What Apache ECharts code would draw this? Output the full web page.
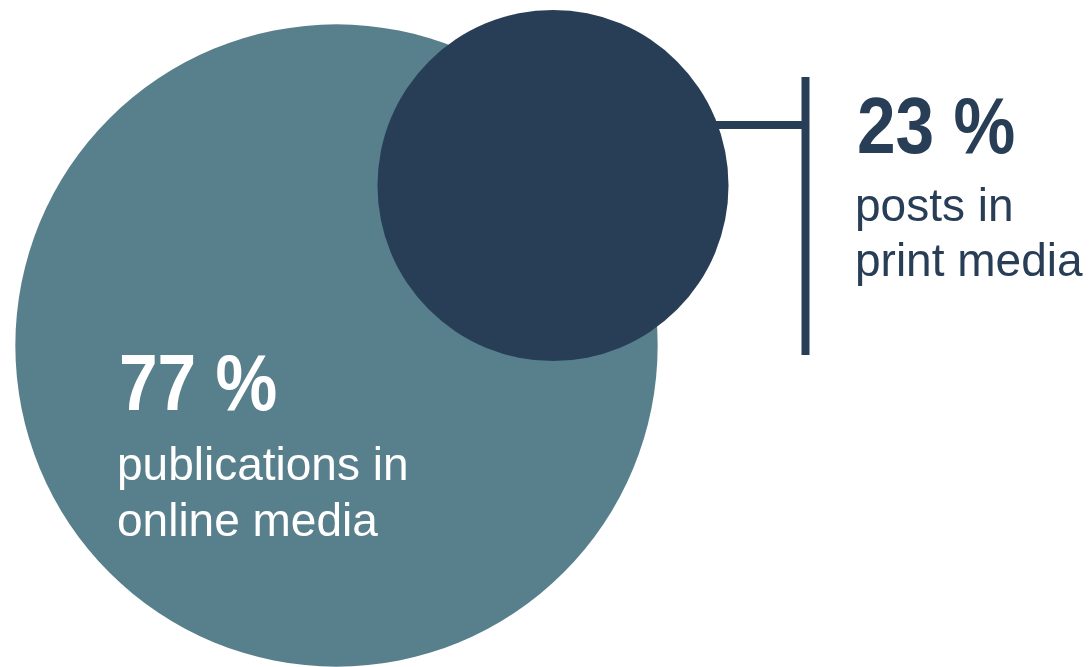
<!DOCTYPE html>
<html>
<head>
<meta charset="utf-8">
<script src="https://cdn.jsdelivr.net/npm/echarts@6/dist/echarts.min.js"></script>
<style>
html,body{margin:0;padding:0;background:#fff;}
#chart{width:1091px;height:667px;}
</style>
</head>
<body>
<div id="chart"></div>
<script>
// ---- data ----
const categories = ['online media', 'print media'];
const shares = [77, 23];
const shareLabels = ['77 %', '23 %'];
const descriptions = [['publications in', 'online media'], ['posts in', 'print media']];

// ---- layout / style ----
const COLORS = ['#58808c', '#283e56'];
const CENTERS = [[336.5, 345.5], [553, 185.5]];
const K = 36.6; // radius per sqrt(share)
const REG = "'Liberation Sans', Arial, sans-serif";
const BOLD = "'Liberation Sans', Arial, sans-serif";

const chart = echarts.init(document.getElementById('chart'), null, {renderer: 'canvas'});

const seriesData = shares.map((v, i) => ({
  name: categories[i],
  value: [CENTERS[i][0], CENTERS[i][1], v],
  itemStyle: {color: COLORS[i], opacity: 1}
}));

function textBlock(x, yTop, idx, color, off1, off2) {
  return [
    {type: 'text', x: x, y: yTop, z: 100, silent: true, scaleX: 0.868,
     style: {text: shareLabels[idx], fill: color, font: 'bold 80px ' + BOLD}},
    {type: 'text', x: x - 2, y: yTop + off1, z: 100, silent: true,
     style: {text: descriptions[idx][0], fill: color, font: '46px ' + REG}},
    {type: 'text', x: x - 2, y: yTop + off2, z: 100, silent: true,
     style: {text: descriptions[idx][1], fill: color, font: '46px ' + REG}}
  ];
}

chart.setOption({
  animation: false,
  backgroundColor: '#ffffff',
  grid: {left: 0, right: 0, top: 0, bottom: 0},
  xAxis: {type: 'value', min: 0, max: 1091, show: false},
  yAxis: {type: 'value', min: 0, max: 667, inverse: true, show: false},
  series: [{
    type: 'scatter',
    symbol: 'circle',
    silent: true,
    symbolSize: (val) => 2 * K * Math.sqrt(val[2]),
    data: seriesData,
    itemStyle: {opacity: 1},
    emphasis: {disabled: true}
  }],
  graphic: [
    {type: 'line', z: 100, silent: true, shape: {x1: 715, y1: 125, x2: 803, y2: 125},
     style: {stroke: COLORS[1], lineWidth: 8}},
    {type: 'line', z: 100, silent: true, shape: {x1: 805.5, y1: 77, x2: 805.5, y2: 355},
     style: {stroke: COLORS[1], lineWidth: 8}},
    ...textBlock(857, 91, 1, COLORS[1], 94, 149),
    ...textBlock(119, 348, 0, '#ffffff', 96, 152)
  ]
});
</script>
</body>
</html>
